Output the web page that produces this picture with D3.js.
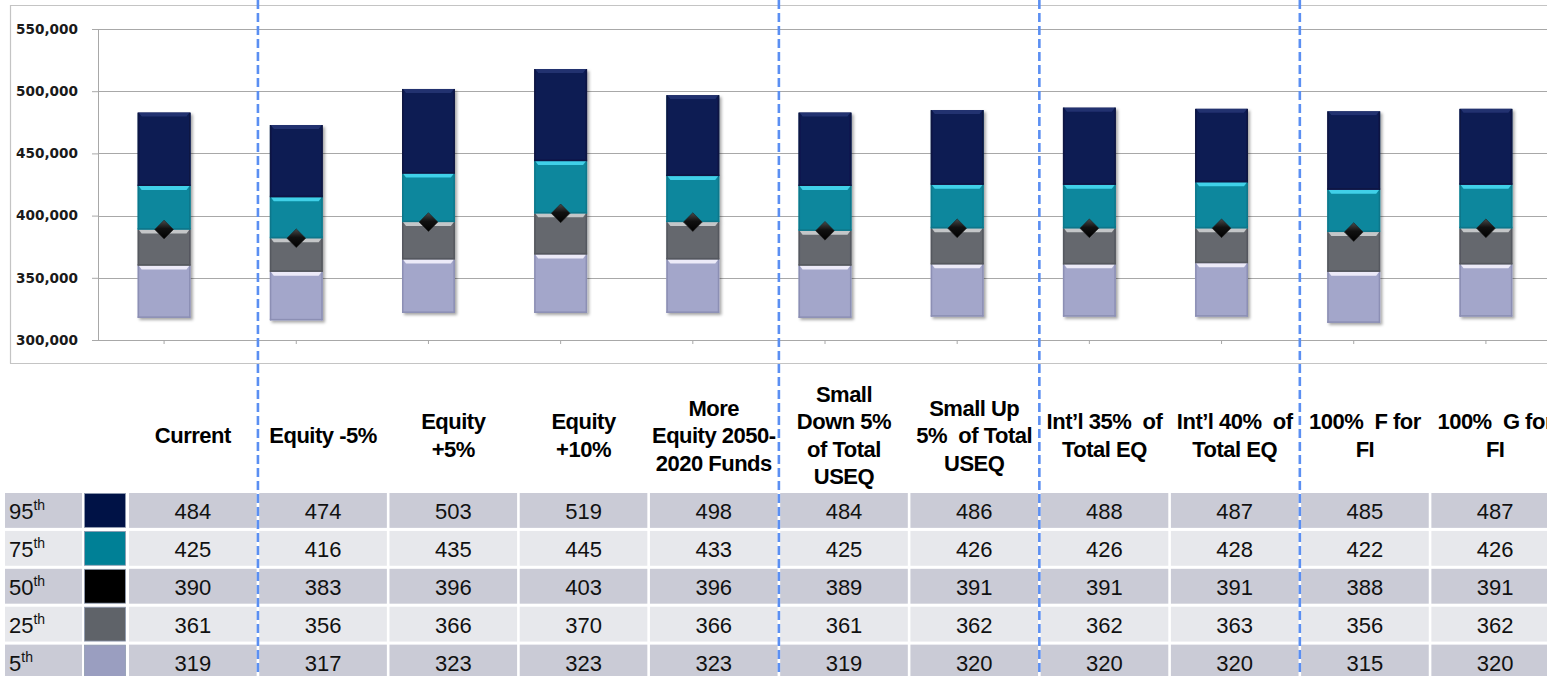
<!DOCTYPE html>
<html><head><meta charset="utf-8">
<script src="https://cdn.jsdelivr.net/npm/d3@7"></script>
<style>
html,body{margin:0;padding:0;background:#fff;overflow:hidden}
text{white-space:pre}
</style>
</head><body>
<svg id="c" width="1547" height="676"></svg>
<script>
// ---------- data ----------
const categories = ["Current","Equity -5%","Equity +5%","Equity +10%","More Equity 2050-2020 Funds",
  "Small Down 5% of Total USEQ","Small Up 5% of Total USEQ","Int’l 35% of Total EQ","Int’l 40% of Total EQ",
  "100% F for FI","100% G for FI"];
const headerLines = [["Current"],["Equity -5%"],["Equity","+5%"],["Equity","+10%"],
  ["More","Equity 2050-","2020 Funds"],["Small","Down 5%","of Total","USEQ"],["Small Up","5%  of Total","USEQ"],
  ["Int’l 35%  of","Total EQ"],["Int’l 40%  of","Total EQ"],["100%  F for","FI"],["100%  G for","FI"]];
const p95 = [484,474,503,519,498,484,486,488,487,485,487];
const p75 = [425,416,435,445,433,425,426,426,428,422,426];
const p50 = [390,383,396,403,396,389,391,391,391,388,391];
const p25 = [361,356,366,370,366,361,362,362,363,356,362];
const p5  = [319,317,323,323,323,319,320,320,320,315,320];
const percentileLabels = ["95","75","50","25","5"];
const yTickValues = [300000,350000,400000,450000,500000,550000];
const groupBreaksAfter = ["Current","More Equity 2050-2020 Funds","Small Up 5% of Total USEQ","Int’l 40% of Total EQ"];

// ---------- styles ----------
const segStyles = [
  {main:"#a3a6ca", hi:"#eceaf8", edge:"#8c8fb4"},  // 5th-25th
  {main:"#65686e", hi:"#c4c6c8", edge:"#55585e"},  // 25th-50th
  {main:"#0b879d", hi:"#3fd0e8", edge:"#08778b"},  // 50th-75th
  {main:"#0b1a52", hi:"#22336f", edge:"#081442"}   // 75th-95th
];
const swatchColors = ["#001246","#008096","#000000","#5f6369","#9a9ec0"];
const rowFills = ["#cacbd6","#e7e8ec","#cacbd6","#e7e8ec","#cacbd6"];
const rowSeries = [p95,p75,p50,p25,p5];

const svg = d3.select("#c");
const defs = svg.append("defs");
const f = defs.append("filter").attr("id","sh").attr("x","-20%").attr("y","-10%").attr("width","150%").attr("height","130%");
f.append("feDropShadow").attr("dx",2).attr("dy",2).attr("stdDeviation",1.5).attr("flood-color","#000").attr("flood-opacity",0.35);
const dg = defs.append("linearGradient").attr("id","dia").attr("x1",0).attr("y1",0).attr("x2",1).attr("y2",1);
dg.append("stop").attr("offset","0%").attr("stop-color","#4a4a4a");
dg.append("stop").attr("offset","45%").attr("stop-color","#111");
dg.append("stop").attr("offset","100%").attr("stop-color","#000");

// ---------- chart ----------
const x = d3.scaleBand().domain(categories).range([98,1552]).paddingInner(0.6).paddingOuter(0.3);
const y = d3.scaleLinear().domain([300000,550000]).range([340,29]);

// frame
const frame = svg.append("g").attr("stroke","#c4c4c4").attr("stroke-width",1.2);
frame.append("line").attr("x1",10).attr("x2",1547).attr("y1",5.5).attr("y2",5.5);
frame.append("line").attr("x1",10.5).attr("x2",10.5).attr("y1",5).attr("y2",363.5);
frame.append("line").attr("x1",10).attr("x2",1547).attr("y1",363.5).attr("y2",363.5);

// y axis with gridlines
const yAxis = svg.append("g").attr("transform","translate(98,0)")
  .call(d3.axisLeft(y).tickValues(yTickValues).tickSize(6).tickPadding(14).tickFormat(d3.format(",")));
yAxis.select(".domain").attr("stroke","#a8a8a8");
yAxis.selectAll(".tick line").attr("stroke","#a8a8a8");
yAxis.selectAll(".tick text").attr("font-family","'DejaVu Sans', Verdana, sans-serif")
  .attr("font-weight","bold").attr("font-size",13.6).attr("fill","#1a1a1a");
svg.append("g").selectAll("line").data(yTickValues).join("line")
  .attr("x1",98).attr("x2",1547).attr("y1",d=>Math.round(y(d))+0.5).attr("y2",d=>Math.round(y(d))+0.5)
  .attr("stroke","#a8a8a8").attr("stroke-width",1);

// x ticks (small)
const xAxis = svg.append("g").attr("transform","translate(0,340)")
  .call(d3.axisBottom(x).tickSize(4).tickFormat(""));
xAxis.select(".domain").remove();
xAxis.selectAll(".tick line").attr("stroke","#a8a8a8");

// bars
const bw = x.bandwidth();
const bars = svg.append("g").attr("transform","translate(0,1.5)");
categories.forEach((c,i)=>{
  const bounds = [p5[i],p25[i],p50[i],p75[i],p95[i]].map(v=>v*1000);
  const g = bars.append("g").attr("filter","url(#sh)");
  for(let s=0;s<4;s++){
    const st = segStyles[s];
    const yTop = y(bounds[s+1]), yBot = y(bounds[s]);
    const x0 = x(c);
    g.append("rect").attr("x",x0).attr("y",yTop).attr("width",bw).attr("height",yBot-yTop).attr("fill",st.main);
    g.append("rect").attr("x",x0).attr("y",yTop).attr("width",1.5).attr("height",yBot-yTop).attr("fill",st.edge);
    g.append("rect").attr("x",x0+bw-1.5).attr("y",yTop).attr("width",1.5).attr("height",yBot-yTop).attr("fill",st.edge);
    g.append("rect").attr("x",x0).attr("y",yBot-1.5).attr("width",bw).attr("height",1.5).attr("fill",st.edge);
    g.append("path").attr("d",`M${x0+1},${yTop}L${x0+bw-1},${yTop}L${x0+bw-4},${yTop+4}L${x0+4},${yTop+4}Z`).attr("fill",st.hi);
  }
});

// median diamonds
svg.append("g").attr("transform","translate(0,1.5)").selectAll("path").data(categories).join("path")
  .attr("d",d3.symbol(d3.symbolSquare,175))
  .attr("transform",(c,i)=>`translate(${x(c)+bw/2},${y(p50[i]*1000)}) rotate(45)`)
  .attr("fill","url(#dia)").attr("stroke","#222").attr("stroke-width",0.6);

// ---------- table ----------
const xt = d3.scaleBand().domain(categories).range([129,1559]).paddingInner(0.02).paddingOuter(0);
const yt = d3.scaleBand().domain(percentileLabels).range([493,679.5]).paddingInner(0.08).paddingOuter(0);
const tb = svg.append("g");

// header
categories.forEach((c,i)=>{
  const lines = headerLines[i];
  const cx = xt(c)+xt.bandwidth()/2;
  const t = tb.append("text").attr("text-anchor","middle").attr("font-family","'Liberation Sans', Arial, sans-serif")
    .attr("font-weight","bold").attr("font-size",22).attr("fill","#000").attr("letter-spacing","-0.5");
  lines.forEach((ln,j)=>{
    t.append("tspan").attr("x",cx).attr("y",443-(lines.length-1)*13.75+j*27.5).text(ln);
  });
});

// rows
percentileLabels.forEach((p,r)=>{
  const ry = yt(p), rh = yt.bandwidth();
  tb.append("rect").attr("x",5).attr("y",ry).attr("width",77).attr("height",rh).attr("fill",rowFills[r]);
  const lt = tb.append("text").attr("x",9).attr("y",ry+rh/2+9).attr("font-family","'Liberation Sans', Arial, sans-serif")
    .attr("font-size",22).attr("fill","#111");
  lt.append("tspan").text(p);
  lt.append("tspan").attr("dy",-9).attr("font-size",14).text("th");
  tb.append("rect").attr("x",84.5).attr("y",ry+0.5).attr("width",41).attr("height",rh-1)
    .attr("fill",swatchColors[r]).attr("stroke","#8e9ab0").attr("stroke-width",0.8);
  tb.append("g").selectAll("rect").data(categories).join("rect")
    .attr("x",c=>xt(c)).attr("y",ry).attr("width",xt.bandwidth()).attr("height",rh).attr("fill",rowFills[r]);
  tb.append("g").selectAll("text").data(categories).join("text")
    .attr("x",c=>xt(c)+xt.bandwidth()/2).attr("y",ry+rh/2+8.5).attr("text-anchor","middle")
    .attr("font-family","'Liberation Sans', Arial, sans-serif").attr("font-size",22).attr("fill","#111")
    .text((c,i)=>rowSeries[r][i]);
});

// dashed group separators
svg.append("g").selectAll("line").data(groupBreaksAfter).join("line")
  .attr("x1",c=>xt(c)+xt.step()-xt.step()*xt.paddingInner()/2).attr("x2",c=>xt(c)+xt.step()-xt.step()*xt.paddingInner()/2)
  .attr("y1",0).attr("y2",676).attr("stroke","#5b8ff2").attr("stroke-width",2.6).attr("stroke-dasharray","9,4");
</script>
</body></html>
